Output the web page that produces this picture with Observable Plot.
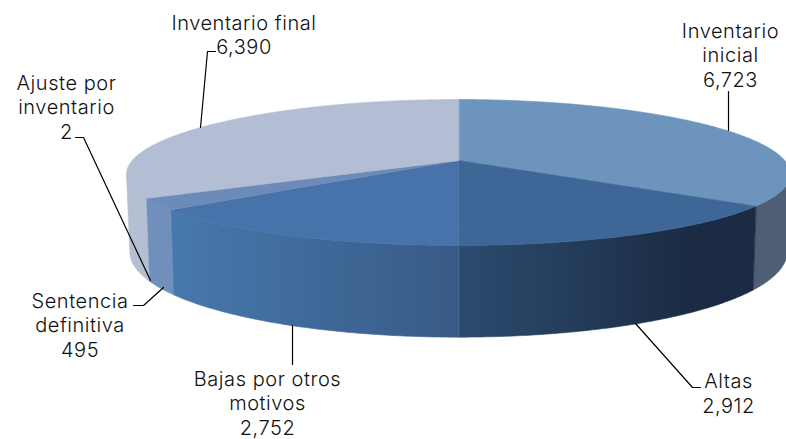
<!DOCTYPE html>
<html><head><meta charset="utf-8">
<style>html,body{margin:0;padding:0;background:#fff}svg{display:block}</style>
<script src="https://cdn.jsdelivr.net/npm/d3@7"></script>
<script src="https://cdn.jsdelivr.net/npm/@observablehq/plot@0.6"></script>
</head><body><script>
// Data
const categories = ["Inventario inicial","Altas","Bajas por otros motivos","Sentencia definitiva","Ajuste por inventario","Inventario final"];
const values = [6723,2912,2752,495,2,6390];
const valueLabels = ["6,723","2,912","2,752","495","2","6,390"];
const labelLines = ["Inventario\ninicial","Altas","Bajas por otros\nmotivos","Sentencia\ndefinitiva","Ajuste por\ninventario","Inventario final"];

// Styles
const topColors = ["#6d94bd","#3e6697","#4773aa","#6c8bb8","#7f9bc0","#b3bed4"];
const wallColors = ["#4e5f75","url(#gAltas)","url(#gBajas)","#7090bb","#8fa6c8","#b5bfd3"];

// Perspective geometry of the disc
const W = 786, H = 439, k = 0.164, kx = 0.185;
const topDisc = {cx:458, cy:160, r:326.3, a:71};
const baseDisc = {cx:458, cy:235, r:323, a:85};
const proj = (d, th) => {
  const X = Math.sin(th), Y = -Math.cos(th);
  return [d.cx + d.r*X/(1 - kx*Y), d.cy + d.a*Y/(1 - k*Y)];
};
const total = d3.sum(values);
let acc = 0;
const slices = values.map((v,i)=>{ const s = acc/total*2*Math.PI; acc += v; return {i, s, e: acc/total*2*Math.PI}; });
const arc = (d, s, e) => { const n = Math.max(2, Math.ceil((e-s)/0.01)); return d3.range(n+1).map(j=>proj(d, s+(e-s)*j/n)); };

// The wall is seen only between the two silhouette angles of the projected disc
const visFrom = Math.PI/2 + Math.asin(kx), visTo = 3*Math.PI/2 - Math.asin(kx);
const wallPts = [], topPts = [];
slices.forEach(sl=>{
  const s = Math.max(sl.s, visFrom), e = Math.min(sl.e, visTo);
  if (e > s) [...arc(topDisc, s, e), ...arc(baseDisc, s, e).reverse()].forEach(p=>wallPts.push({x:p[0],y:p[1],z:sl.i}));
  [[topDisc.cx,topDisc.cy], ...arc(topDisc, sl.s, sl.e)].forEach(p=>topPts.push({x:p[0],y:p[1],z:sl.i}));
});

// Callouts (layout)
const labelPos = [[730,54],[728,392],[267,402],[79.5,324],[66,106],[243.5,33.5]];
const leaders = [
  [[728,91],[728,130]],
  [[700,387],[692,387],[635,323]],
  [[292,364],[292,325]],
  [[133,305],[143,305],[163,287]],
  [[75,137],[83,137],[150,280]],
  [[215,51],[207,51],[200,127]]
];
const leaderPts = leaders.flatMap((l,i)=>l.map(p=>({x:p[0],y:p[1],z:i})));
const labels = categories.map((c,i)=>({text:(labelLines[i]+"\n"+valueLabels[i]), x:labelPos[i][0], y:labelPos[i][1]}));

const defs = () => {
  const ns = "http://www.w3.org/2000/svg";
  const d = document.createElementNS(ns,"defs");
  const grad = (id,x1,x2,stops)=>{
    const g = document.createElementNS(ns,"linearGradient");
    g.setAttribute("id",id); g.setAttribute("gradientUnits","userSpaceOnUse");
    g.setAttribute("x1",x1); g.setAttribute("x2",x2); g.setAttribute("y1",0); g.setAttribute("y2",0);
    stops.forEach(([o,c])=>{const s=document.createElementNS(ns,"stop");s.setAttribute("offset",o);s.setAttribute("stop-color",c);g.appendChild(s);});
    d.appendChild(g);
  };
  grad("gAltas",458,690,[[0,"#2c4c70"],[1,"#1b2b43"]]);
  grad("gBajas",172,458,[[0,"#4778ad"],[1,"#385a85"]]);
  return d;
};

const plot = Plot.plot({
  width:W, height:H, margin:0,
  x:{domain:[0,W], range:[0,W], axis:null},
  y:{domain:[0,H], range:[0,H], axis:null},
  style:{background:"#fff", letterSpacing:"0.55px"},
  marks:[
    defs,
    ...slices.map(sl=>Plot.line(wallPts.filter(p=>p.z===sl.i),{x:"x",y:"y",fill:wallColors[sl.i],stroke:wallColors[sl.i],strokeWidth:0.6,curve:"linear-closed"})),
    ...slices.map(sl=>Plot.line(topPts.filter(p=>p.z===sl.i),{x:"x",y:"y",fill:topColors[sl.i],stroke:topColors[sl.i],strokeWidth:0.6,curve:"linear-closed"})),
    Plot.line(leaderPts,{x:"x",y:"y",z:"z",stroke:"#000",strokeWidth:1.2,curve:"linear"}),
    Plot.text(labels,{x:"x",y:"y",text:"text",fontFamily:"Inter",fontWeight:300,fontSize:20,fill:"#111",lineHeight:1.22,lineAnchor:"middle",textAnchor:"middle"})
  ]
});
document.body.appendChild(plot);
</script></body></html>
